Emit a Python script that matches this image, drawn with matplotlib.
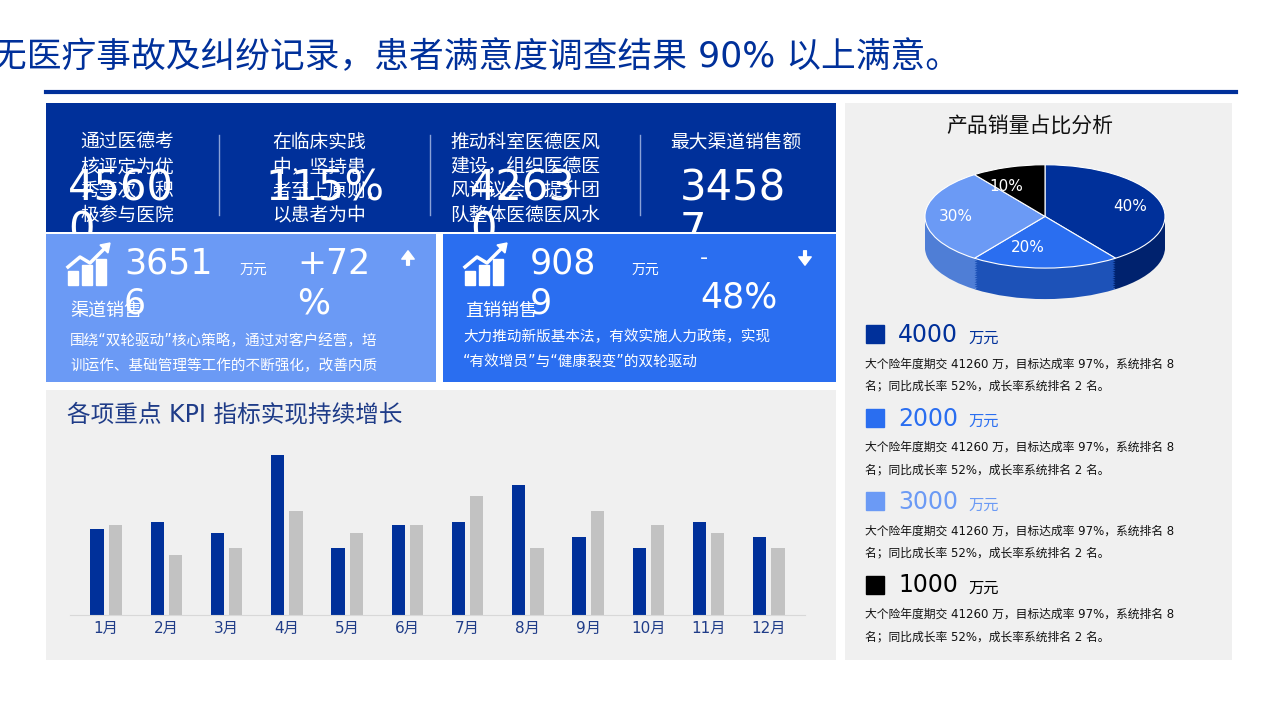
import numpy as np
import matplotlib.pyplot as plt
from matplotlib.patches import Rectangle, Polygon

plt.rcParams['font.family'] = ['DejaVu Sans', 'Noto Sans CJK SC']

NAVY = '#00309A'
BLUE = '#2A6EF0'
LIGHT = '#6B9AF5'
GREY_BG = '#F0F0F0'

months = ['1月', '2月', '3月', '4月', '5月', '6月', '7月', '8月', '9月', '10月', '11月', '12月']
kpi_a = [86, 93, 82, 160, 67, 90, 93, 130, 78, 67, 93, 78]
kpi_b = [90, 60, 67, 104, 82, 90, 119, 67, 104, 90, 82, 67]

pie_vals = [40, 20, 30, 10]
pie_labels = ['40%', '20%', '30%', '10%']
pie_colors = [NAVY, BLUE, LIGHT, '#000000']
side_colors = ['#00226E', '#1D52B8', '#4F7ED6', '#000000']

legend_vals = ['4000', '2000', '3000', '1000']
legend_colors = [NAVY, BLUE, LIGHT, '#000000']
legend_desc = '大个险年度期交 41260 万，目标达成率 97%，系统排名 8\n名；同比成长率 52%，成长率系统排名 2 名。'

top_cols = [
    (80, '通过医德考\n核评定为优\n秀等次，积\n极参与医院', 68, '4560\n0'),
    (272, '在临床实践\n中，坚持患\n者至上原则，\n以患者为中', 265, '115%'),
    (450, '推动科室医德医风\n建设，组织医德医\n风评议会，提升团\n队整体医德医风水', 470, '4263\n0'),
    (670, '最大渠道销售额', 680, '3458\n7'),
]

W, H = 1280, 719
fig = plt.figure(figsize=(12.8, 7.19), dpi=100)
base = fig.add_axes([0, 0, 1, 1])
base.set_xlim(0, W)
base.set_ylim(H, 0)
base.axis('off')


def panel(x0, y0, x1, y1, color):
    ax = fig.add_axes([x0 / W, 1 - y1 / H, (x1 - x0) / W, (y1 - y0) / H])
    ax.set_xlim(x0, x1)
    ax.set_ylim(y1, y0)
    ax.set_facecolor(color)
    ax.set_xticks([])
    ax.set_yticks([])
    for s in ax.spines.values():
        s.set_visible(False)
    return ax


def icon(ax, x, y):
    # small bar-chart-with-arrow glyph, (x, y) = bottom left
    for i, h in enumerate([14, 20, 26]):
        ax.add_patch(Rectangle((x + i * 14, y - h), 10, h, color='white'))
    ax.plot([x, x + 12, x + 22, x + 38], [y - 18, y - 28, y - 22, y - 38], color='white', lw=2.5)
    ax.add_patch(Polygon([[x + 42, y - 42], [x + 32, y - 40], [x + 40, y - 32]], color='white'))


# title
base.text(-8, 57, '无医疗事故及纠纷记录，患者满意度调查结果 90% 以上满意。', fontsize=25,
          color=NAVY, va='center', ha='left')
base.plot([46, 1236], [92, 92], color=NAVY, lw=3)

# top navy panel
ax = panel(46, 103, 836, 232, NAVY)
for x in [219, 430, 640]:
    ax.plot([x, x], [135, 215], color='#8AA2D8', lw=1)
for tx, txt, nx, num in top_cols:
    ax.text(tx, 133, txt, fontsize=13.5, color='white', va='top', linespacing=1.35, clip_on=True)
    ax.text(nx, 168, num, fontsize=30, color='white', va='top', linespacing=1.0, clip_on=True)

# light blue panel
ax = panel(46, 234, 436, 382, LIGHT)
icon(ax, 68, 285)
ax.text(124, 247, '3651\n6', fontsize=25, color='white', va='top', linespacing=1.2, clip_on=True)
ax.text(240, 270, '万元', fontsize=10, color='white', va='center')
ax.text(297, 247, '+72\n%', fontsize=25, color='white', va='top', linespacing=1.2)
ax.annotate('', xy=(408, 248), xytext=(408, 268),
            arrowprops=dict(arrowstyle='simple,head_width=0.9,head_length=0.6', color='white'))
ax.text(70, 311, '渠道销售', fontsize=13, color='white', va='center')
ax.text(70, 353, '围绕“双轮驱动”核心策略，通过对客户经营，培\n训运作、基础管理等工作的不断强化，改善内质',
        fontsize=10.5, color='white', va='center', linespacing=1.8)

# blue panel
ax = panel(443, 234, 836, 382, BLUE)
icon(ax, 465, 285)
ax.text(530, 247, '908\n9', fontsize=25, color='white', va='top', linespacing=1.2, clip_on=True)
ax.text(632, 270, '万元', fontsize=10, color='white', va='center')
ax.text(700, 258, '-', fontsize=16, color='white', va='center')
ax.text(700, 297, '48%', fontsize=25, color='white', va='center')
ax.annotate('', xy=(805, 268), xytext=(805, 248),
            arrowprops=dict(arrowstyle='simple,head_width=0.9,head_length=0.6', color='white'))
ax.text(465, 311, '直销销售', fontsize=13, color='white', va='center')
ax.text(463, 349, '大力推动新版基本法，有效实施人力政策，实现\n“有效增员”与“健康裂变”的双轮驱动',
        fontsize=10.5, color='white', va='center', linespacing=1.8)

# bar chart panel
bp = panel(46, 390, 836, 660, GREY_BG)
bp.text(67, 414, '各项重点 KPI 指标实现持续增长', fontsize=17, color='#1F3C88', va='center')
bx = fig.add_axes([70 / W, 1 - 615 / H, 735 / W, 175 / H])
bx.set_facecolor('none')
x = np.arange(len(months))
bx.bar(x - 0.15, kpi_a, width=0.22, color=NAVY)
bx.bar(x + 0.15, kpi_b, width=0.22, color='#C2C2C2')
bx.set_xlim(-0.6, 11.6)
bx.set_ylim(0, 175)
bx.set_xticks(x)
bx.set_xticklabels(months, color='#1F3C88', fontsize=11)
bx.tick_params(length=0, pad=4)
bx.set_yticks([])
for s in ['top', 'right', 'left']:
    bx.spines[s].set_visible(False)
bx.spines['bottom'].set_color('#D8D8D8')

# right panel
rp = panel(845, 103, 1232, 660, GREY_BG)
rp.text(1030, 126, '产品销量占比分析', fontsize=15, color='#111111', ha='center', va='center')
for i, (v, c) in enumerate(zip(legend_vals, legend_colors)):
    y = 335 + i * 83.5
    rp.add_patch(Rectangle((866, y - 10), 18, 18, color=c))
    rp.text(898, y, v, fontsize=17, color=c, va='center')
    rp.text(968, y + 3, '万元', fontsize=11, color=c, va='center')
    rp.text(865, y + 40, legend_desc, fontsize=8.5, color='#111111', va='center', linespacing=1.9)

px = fig.add_axes([895 / W, 1 - 312 / H, 300 / W, 155 / H])
for dy in np.linspace(-0.6, -0.02, 14):
    px.pie(pie_vals, colors=side_colors, startangle=90, counterclock=False, center=(0, dy),
           wedgeprops=dict(linewidth=0))
px.pie(pie_vals, colors=pie_colors, startangle=90, counterclock=False, labels=pie_labels,
       labeldistance=0.6, textprops=dict(color='white', fontsize=11),
       wedgeprops=dict(linewidth=0.8, edgecolor='white'))
px.set_aspect('auto')
px.set_xlim(-1.25, 1.25)
px.set_ylim(-1.85, 1.15)
px.axis('off')

fig.savefig('out.png', dpi=100)
